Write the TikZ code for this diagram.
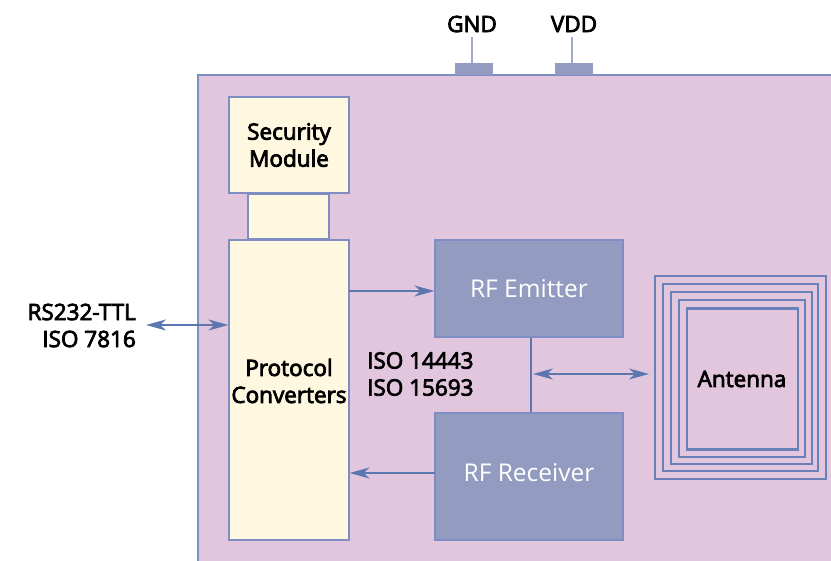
\documentclass[tikz,border=0pt]{standalone}
\usepackage{fontspec}
\setmainfont{Open Sans}[BoldFont={Open Sans}, BoldFeatures={FakeBold=3.5}]
\usetikzlibrary{arrows.meta}
\definecolor{bgpink}{HTML}{E2C6DD}
\definecolor{edgeblue}{HTML}{7F8EC2}
\definecolor{paleyellow}{HTML}{FFF8E0}
\definecolor{rfblue}{HTML}{939BC0}
\definecolor{arrowblue}{HTML}{5B76B0}
\definecolor{antblue}{HTML}{6A80B8}
\definecolor{pinline}{HTML}{A3AACF}
\tikzset{
  yellowbox/.style={draw=edgeblue, line width=1.2pt, fill=paleyellow, inner sep=0pt, align=center, font=\fontsize{22.5}{28}\selectfont\bfseries},
  rfbox/.style={draw=edgeblue, line width=1.2pt, fill=rfblue, inner sep=0pt, text=white, font=\fontsize{24.5}{28}\selectfont},
  lbl/.style={font=\fontsize{22.5}{28}\selectfont\bfseries, inner sep=0pt},
  conn/.style={draw=arrowblue, line width=1.2pt},
  tip/.style={-{Stealth[length=20pt,width=11pt,inset=6pt]}},
  bitip/.style={{Stealth[length=20pt,width=11pt,inset=6pt]}-{Stealth[length=20pt,width=11pt,inset=6pt]}},
  pad/.style={fill=rfblue, inner sep=0pt},
  coil/.style={draw=antblue, line width=2.2pt}
}
\begin{document}
\begin{tikzpicture}[x=1pt,y=-1pt]
\useasboundingbox (0,0) rectangle (831,561);
\clip (0,0) rectangle (831,561);
% main board
\path[fill=bgpink, draw=edgeblue, line width=1.3pt] (198,75) rectangle (850,580);
% pins
\node[pad, minimum width=38pt, minimum height=12pt] (gndpad) at (474,69) {};
\node[pad, minimum width=38pt, minimum height=12pt] (vddpad) at (574,69) {};
\node[lbl] (gnd) at (472,24) {GND};
\node[lbl] (vdd) at (574,24) {VDD};
\coordinate (gndtop) at (472,37);
\coordinate (vddtop) at (572,37);
\draw[pinline, line width=2.5pt] (gndtop) -- (gndtop |- gndpad.north);
\draw[pinline, line width=2.5pt] (vddtop) -- (vddtop |- vddpad.north);
% yellow boxes
\node[yellowbox, minimum width=120pt, minimum height=96pt] (sec) at (289,145) {Security\\[-1pt]Module};
\node[yellowbox, minimum width=81pt, minimum height=45pt] (link) at (288.5,216.5) {};
\node[yellowbox, minimum width=120pt, minimum height=300pt] (prot) at (289,390) {};
\node[lbl, align=center] (protlbl) at (289,381) {Protocol\\[-1pt]Converters};
% RF boxes
\node[rfbox, minimum width=188pt, minimum height=97pt] (emit) at (529,288.5) {RF Emitter};
\node[rfbox, minimum width=188pt, minimum height=127pt] (recv) at (529,476.5) {};
\node[font=\fontsize{24.5}{28}\selectfont, inner sep=0pt, text=white] (recvlbl) at (529,473) {RF Receiver};
% antenna
\draw[coil] (655,276) rectangle (826,479);
\draw[coil] (663,284) rectangle (818,471);
\draw[coil] (671,292) rectangle (812,464);
\draw[coil] (679,300) rectangle (805,457);
\node[coil, minimum width=111pt, minimum height=141pt, inner sep=0pt] (ant) at (742.5,379) {};
\node[lbl] (antlbl) at (742,379) {Antenna};
% labels
\node[lbl, anchor=east, align=right] (rs) at (136,325.5) {RS232-TTL\\[-1pt]ISO 7816};
\node[lbl, anchor=west, align=left] (iso) at (367,374) {ISO 14443\\[-1pt]ISO 15693};
% connectors
\coordinate (rsend) at (146,325);
\draw[conn, bitip] (rsend) -- (rsend -| prot.west);
\coordinate (emitin) at (349,291);
\draw[conn, tip] (emitin) -- (emitin -| emit.west);
\coordinate (recvout) at (435,473);
\draw[conn, tip] (recvout) -- (recvout -| prot.east);
\draw[conn] (emit.south -| 531,0) -- (recv.north -| 531,0);
\coordinate (antl) at (533,374);
\coordinate (antr) at (649,374);
\draw[conn, bitip] (antl) -- (antr);
\end{tikzpicture}
\end{document}
